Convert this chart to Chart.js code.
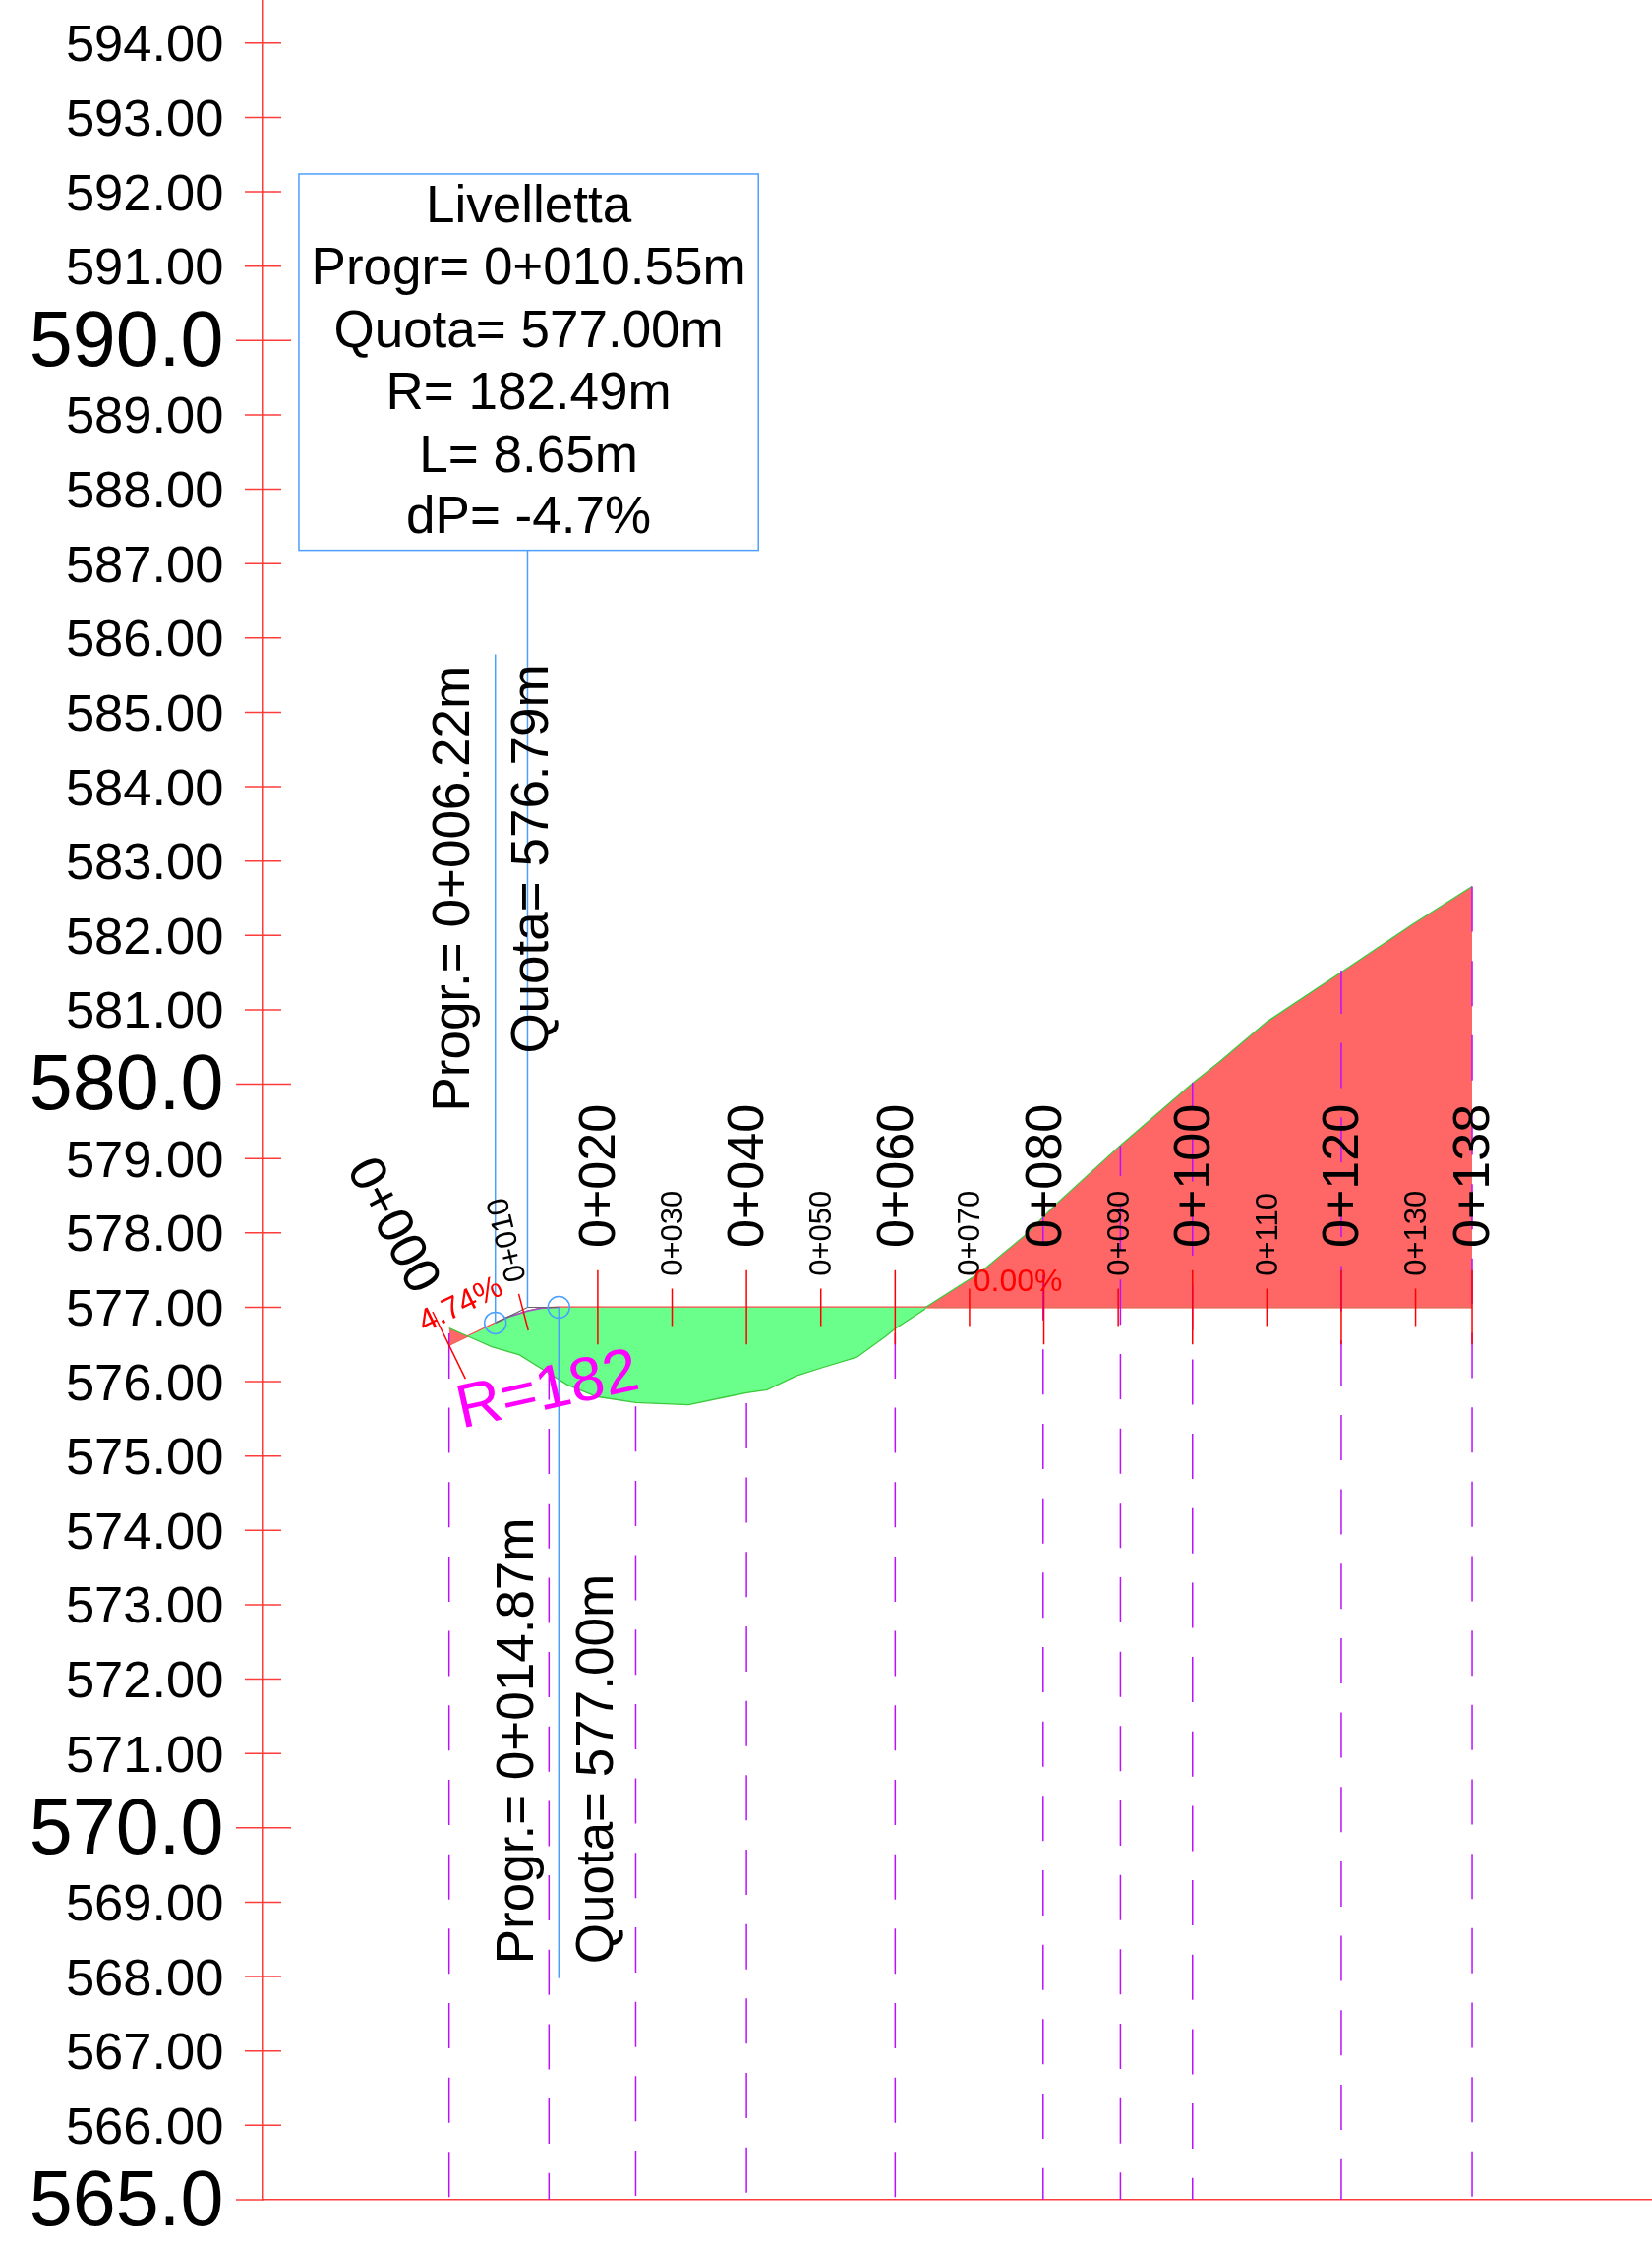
<!DOCTYPE html>
<html>
<head>
<meta charset="utf-8">
<title>Livelletta</title>
<script src="https://cdn.jsdelivr.net/npm/chart.js@4"></script>
<style>
  html, body { margin: 0; padding: 0; background: #fff; overflow: hidden; }
  canvas { display: block; }
</style>
</head>
<body>
<canvas id="myChart" width="1680" height="2279"></canvas>
<script>
// elevation axis
const yTicks = [565,566,567,568,569,570,571,572,573,574,575,576,577,578,579,580,581,582,583,584,585,586,587,588,589,590,591,592,593,594];
const yMajor = [565, 570, 580, 590];

// ground profile (progressive, elevation)
const terrainX = [0, 2.55, 5.73, 9.48, 12.35, 15.87, 19.84, 25.13, 32.18, 37.47, 40.03, 42.77, 46.73, 50.22, 54.85, 58.6, 60.09, 63.93, 64.1, 70.54, 72.3, 77.6, 81.56, 90.2, 100.1, 103.6, 110, 120.05, 129.6, 137.6];
const terrainY = [576.72, 576.61, 576.47, 576.36, 576.18, 575.96, 575.8, 575.72, 575.69, 575.8, 575.85, 575.89, 576.08, 576.19, 576.33, 576.6, 576.72, 576.97, 577, 577.41, 577.54, 577.98, 578.38, 579.17, 580.02, 580.3, 580.84, 581.51, 582.15, 582.66];

// design grade
const gradeX = [0, 6.22, 8, 10.55, 12.5, 14.87, 137.6];
const gradeY = [576.49, 576.79, 576.87, 576.95, 576.99, 577, 577];

// vertex of the vertical curve
const tangentX = [6.22, 10.55, 14.87];
const tangentY = [576.79, 577, 577];

// dashed section lines
const sectionX = [0, 13.44, 25.1, 40, 60, 79.9, 90.3, 100, 120, 137.6];
const sectionTop = [576.72, 576.11, 575.72, 575.83, 576.72, 578.21, 579.17, 580.02, 581.53, 582.66];

// station ticks and labels
const majorStations = [20, 40, 60, 80, 100, 120, 137.6];
const majorLabels = ['0+020', '0+040', '0+060', '0+080', '0+100', '0+120', '0+138'];
const minorStations = [30, 50, 70, 90, 110, 130];
const minorLabels = ['0+030', '0+050', '0+070', '0+090', '0+110', '0+130'];

// info box
const boxX = [-20.2, 41.6];
const boxY = [592.24, 587.18];
const boxLines = ['Livelletta', 'Progr= 0+010.55m', 'Quota= 577.00m', 'R= 182.49m', 'L= 8.65m', 'dP= -4.7%'];
const boxLineY = [591.79, 590.95, 590.11, 589.27, 588.42, 587.6];

const RED = '#ff3c3c';
const BLUE = '#4d9fff';
const FONT = '"Liberation Sans", Arial, sans-serif';

// where each section line's dash pattern picks up at its top end, in px
const sectionPhase = [70.4, 19.4, 71.7, 66.7, 70.4, 17, 15.4, 21.4, 2, 0];

function seg(xs, ys, color, width, extra) {
  return Object.assign({
    data: xs.map((x, i) => ({ x: x, y: ys[i] })),
    showLine: true,
    borderColor: color,
    borderWidth: width,
    pointRadius: 0,
    tension: 0,
    fill: false
  }, extra || {});
}

const datasets = [];

// blue leader lines and box stem
datasets.push(seg([6.22, 6.22], [585.78, 576.79], BLUE, 1.5));
datasets.push(seg([10.55, 10.55], [587.18, 577], BLUE, 1.5));
datasets.push(seg([14.76, 14.76], [577, 567.98], BLUE, 1.5));
datasets.push(seg([6.22, 14.76], [576.79, 577], BLUE, 1.5, {
  showLine: false,
  pointRadius: 11,
  pointBorderColor: BLUE,
  pointBorderWidth: 1.5,
  pointBackgroundColor: 'rgba(0,0,0,0)'
}));

// station ticks
majorStations.forEach(s => datasets.push(seg([s, s], [577.5, 576.5], '#ff0000', 1.5)));
minorStations.forEach(s => datasets.push(seg([s, s], [577.25, 576.75], '#ff0000', 1.5)));
datasets.push(seg([-2.21, 2.2], [576.94, 576.04], '#ff0000', 1.5));
datasets.push(seg([9.37, 10.65], [577.18, 576.69], '#ff0000', 1.5));

// section lines
sectionX.forEach((s, i) => datasets.push(seg([s, s], [sectionTop[i], 565], '#bb11ff', 1.5, {
  borderDash: [46, 29.67],
  borderDashOffset: sectionPhase[i]
})));

// curve and tangents
datasets.push(seg(tangentX, tangentY, '#666666', 1.2));
datasets.push(seg(gradeX.slice(1, 6), gradeY.slice(1, 6), '#a050c8', 1.5));

// ground with cut and fill against the grade line just after it
datasets.push(seg(terrainX, terrainY, '#3ec83e', 1.3, {
  fill: { target: '+1', above: '#ff6666', below: '#6aff8a' }
}));
datasets.push(seg(gradeX, gradeY, 'rgba(255,0,0,0.75)', 1.8));

function label(ctx, text, x, y, size, color, angle, align, baseline) {
  ctx.save();
  ctx.translate(x, y);
  ctx.rotate(angle * Math.PI / 180);
  ctx.font = size + 'px ' + FONT;
  ctx.fillStyle = color;
  ctx.textAlign = align;
  ctx.textBaseline = baseline;
  ctx.fillText(text, 0, 0);
  ctx.restore();
}

const notes = {
  id: 'notes',
  afterDatasetsDraw(chart) {
    const ctx = chart.ctx;
    const xs = chart.scales.x;
    const ys = chart.scales.y;
    const px = v => xs.getPixelForValue(v);
    const py = v => ys.getPixelForValue(v);

    // ticks cross the elevation axis on both sides
    ctx.save();
    ctx.strokeStyle = RED;
    ctx.lineWidth = 1.5;
    yTicks.forEach(v => {
      const big = yMajor.includes(v);
      ctx.beginPath();
      ctx.moveTo(xs.left - (big ? 27 : 18), py(v));
      ctx.lineTo(xs.left + (v === 565 ? 0 : big ? 29 : 19), py(v));
      ctx.stroke();
    });

    // info box
    ctx.strokeStyle = BLUE;
    ctx.strokeRect(px(boxX[0]), py(boxY[0]), px(boxX[1]) - px(boxX[0]), py(boxY[1]) - py(boxY[0]));
    ctx.restore();

    const boxMid = (boxX[0] + boxX[1]) / 2;
    boxLines.forEach((t, i) => label(ctx, t, px(boxMid), py(boxLineY[i]), 53, '#000', 0, 'center', 'middle'));

    majorStations.forEach((s, i) => label(ctx, majorLabels[i], px(s) + 3, py(577.8), 52, '#000', -90, 'left', 'middle'));
    minorStations.forEach((s, i) => label(ctx, minorLabels[i], px(s) + 2, py(577.42), 31, '#000', -90, 'left', 'middle'));
    label(ctx, '0+000', px(-12.13), py(578.95), 52, '#000', 62.7, 'left', 'middle');
    label(ctx, '0+010', px(9.25), py(577.35), 31, '#000', -103.5, 'left', 'middle');

    label(ctx, 'Progr.= 0+006.22m', px(2.65), py(579.63), 53, '#000', -90, 'left', 'alphabetic');
    label(ctx, 'Quota= 576.79m', px(13.3), py(580.41), 53, '#000', -90, 'left', 'alphabetic');
    label(ctx, 'Progr.= 0+014.87m', px(11.29), py(568.17), 53, '#000', -90, 'left', 'alphabetic');
    label(ctx, 'Quota= 577.00m', px(22), py(568.17), 53, '#000', -90, 'left', 'alphabetic');

    label(ctx, '4.74%', px(-3.3), py(576.66), 32, '#ff0000', -26, 'left', 'alphabetic');
    label(ctx, '0.00%', px(70.5), py(577.22), 32, '#ff0000', 0, 'left', 'alphabetic');
    label(ctx, 'R=182', px(1.7), py(575.37), 63, '#ff00ff', -12.6, 'left', 'alphabetic');
  }
};

new Chart(document.getElementById('myChart'), {
  type: 'scatter',
  data: { datasets: datasets },
  plugins: [notes],
  options: {
    responsive: false,
    devicePixelRatio: 1,
    animation: false,
    layout: { padding: 0, autoPadding: false },
    plugins: { legend: { display: false }, tooltip: { enabled: false }, title: { display: false } },
    scales: {
      x: {
        type: 'linear',
        min: -25.09,
        max: 161.8,
        grid: { display: false },
        border: { color: RED, width: 1.5 },
        ticks: { display: false },
        afterFit(scale) {
          scale.height = 42;
          scale.paddingLeft = 0;
          scale.paddingRight = 0;
        }
      },
      y: {
        type: 'linear',
        min: 565,
        max: 594.58,
        grid: { display: false },
        border: { color: RED, width: 1.5 },
        afterBuildTicks(scale) {
          scale.ticks = yTicks.map(v => ({ value: v }));
        },
        ticks: {
          autoSkip: false,
          maxRotation: 0,
          minRotation: 0,
          padding: 31.5,
          labelOffset: 4,
          color: '#000',
          font: ctx => ({ family: FONT, size: ctx.tick && yMajor.includes(ctx.tick.value) ? 79 : 52.5 }),
          callback: v => yMajor.includes(v) ? v.toFixed(1) : v.toFixed(2)
        },
        afterFit(scale) {
          scale.width = 267;
          scale.paddingTop = 0;
          scale.paddingBottom = 0;
        }
      }
    }
  }
});
</script>
</body>
</html>
